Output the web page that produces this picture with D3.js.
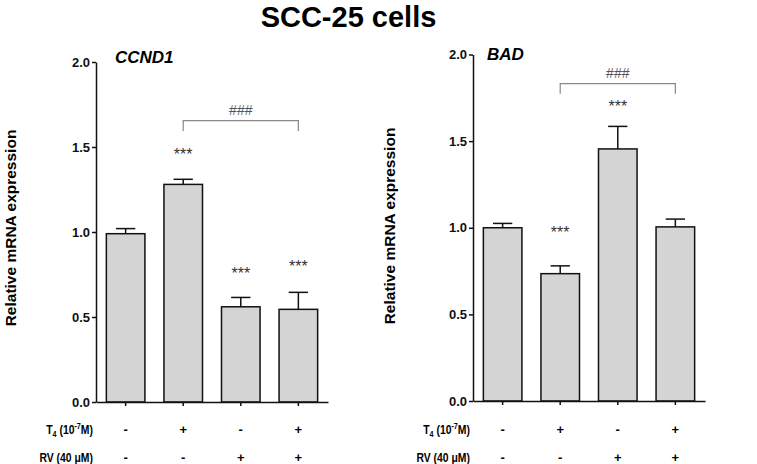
<!DOCTYPE html>
<html>
<head>
<meta charset="utf-8">
<script src="https://cdn.jsdelivr.net/npm/d3@7"></script>
<style>
  html, body { margin: 0; padding: 0; background: #fff; }
  svg { display: block; font-family: Arial, "Liberation Sans", sans-serif; }
</style>
</head>
<body>
<svg id="chart" width="757" height="464"></svg>
<script>
// ---- data ----
const conditions = ["Control", "T4", "RV", "T4+RV"];
const ccnd1Mean = [0.99, 1.28, 0.56, 0.545];
const ccnd1Err  = [0.03, 0.03, 0.055, 0.10];
const ccnd1Stars = ["", "***", "***", "***"];
const ccnd1StarLevel = [null, 1.478, 0.776, 0.818];
const badMean = [1.0, 0.735, 1.455, 1.005];
const badErr  = [0.025, 0.045, 0.13, 0.045];
const badStars = ["", "***", "***", ""];
const badStarLevel = [null, 0.992, 1.72, null];
const yTicks = [0, 0.5, 1.0, 1.5, 2.0];
const t4Signs = ["-", "+", "-", "+"];
const rvSigns = ["-", "-", "+", "+"];
const bracketFrom = 1, bracketTo = 3;
const bracketLabel = "###";

const svg = d3.select("#chart");

svg.append("text")
  .attr("x", 348.5).attr("y", 27)
  .attr("text-anchor", "middle")
  .attr("font-size", 29).attr("font-weight", "bold")
  .text("SCC-25 cells");

function panel(opt) {
  const g = svg.append("g");
  const y = d3.scaleLinear().domain([0, 2]).range([opt.y0, opt.y2]);
  const x = d3.scaleBand().domain(conditions)
    .range([opt.ax, opt.ax + 232]).paddingInner(0.33).paddingOuter(0.18);

  // bars
  g.selectAll("rect.bar").data(conditions).enter().append("rect")
    .attr("x", d => x(d)).attr("width", x.bandwidth())
    .attr("y", (d, i) => y(opt.mean[i]))
    .attr("height", (d, i) => y(0) - y(opt.mean[i]))
    .attr("fill", "#d4d4d4").attr("stroke", "#111").attr("stroke-width", 1.5);

  // error bars
  const cap = x.bandwidth() / 2;
  conditions.forEach((c, i) => {
    const cx = x(c) + x.bandwidth() / 2;
    const top = y(opt.mean[i] + opt.err[i]);
    g.append("line").attr("x1", cx).attr("x2", cx)
      .attr("y1", y(opt.mean[i])).attr("y2", top)
      .attr("stroke", "#111").attr("stroke-width", 1.5);
    g.append("line").attr("x1", cx - cap / 2).attr("x2", cx + cap / 2)
      .attr("y1", top).attr("y2", top)
      .attr("stroke", "#111").attr("stroke-width", 1.5);
    if (opt.stars[i]) {
      g.append("text").attr("x", cx).attr("y", y(opt.starLevel[i]) + 9)
        .attr("text-anchor", "middle").attr("font-size", 16).attr("fill", "#333")
        .text(opt.stars[i]);
    }
  });

  // y axis
  const yAxis = d3.axisLeft(y).tickValues(yTicks).tickFormat(d3.format(".1f"))
    .tickSize(4).tickPadding(2).tickSizeOuter(0);
  const ya = g.append("g").attr("transform", `translate(${opt.ax},0)`).call(yAxis);
  ya.selectAll("text").attr("font-size", 13).attr("font-weight", "bold")
    .attr("fill", "#111").attr("font-family", "Arial, 'Liberation Sans', sans-serif");
  ya.selectAll("line").attr("stroke", "#111").attr("stroke-width", 1.5);
  ya.select(".domain").attr("stroke", "#111").attr("stroke-width", 1.5);

  // x axis
  const xAxis = d3.axisBottom(x).tickSize(4).tickFormat("").tickSizeOuter(0);
  const xa = g.append("g").attr("transform", `translate(0,${opt.y0})`).call(xAxis);
  xa.selectAll("line").attr("stroke", "#111").attr("stroke-width", 1.5);
  xa.select(".domain").attr("stroke", "#111").attr("stroke-width", 1.5);

  // gene title
  g.append("text").attr("x", opt.titleX).attr("y", opt.titleY)
    .attr("font-size", 17).attr("font-weight", "bold").attr("font-style", "italic")
    .text(opt.title);

  // y label
  g.append("text")
    .attr("transform", `translate(${opt.labX},${opt.labY}) rotate(-90)`)
    .attr("text-anchor", "middle").attr("dominant-baseline", "central")
    .attr("font-size", 15.5).attr("font-weight", "bold")
    .text("Relative mRNA expression");

  // bracket
  const bx1 = x(conditions[bracketFrom]) + x.bandwidth() / 2;
  const bx2 = x(conditions[bracketTo]) + x.bandwidth() / 2;
  const by = y(opt.bracketLevel), byd = y(opt.bracketDrop);
  g.append("path")
    .attr("d", `M${bx1},${byd}V${by}H${bx2}V${byd}`)
    .attr("fill", "none").attr("stroke", "#888").attr("stroke-width", 1.2);
  g.append("text").attr("x", (bx1 + bx2) / 2).attr("y", y(opt.hashLevel) + 5)
    .attr("text-anchor", "middle").attr("font-size", 14).attr("fill", "#555")
    .text(bracketLabel);

  // treatment rows (condensed look)
  const rx = opt.ax - 3;
  const squeeze = `translate(${rx},0) scale(0.8,1) translate(${-rx},0)`;
  const rowT = g.append("text").attr("x", rx).attr("y", 434)
    .attr("text-anchor", "end").attr("font-size", 13).attr("font-weight", "bold")
    .attr("transform", squeeze);
  rowT.append("tspan").text("T");
  rowT.append("tspan").attr("font-size", 9).attr("dy", 3).text("4");
  rowT.append("tspan").attr("dy", -3).text(" (10");
  rowT.append("tspan").attr("font-size", 9).attr("dy", -5).text("-7");
  rowT.append("tspan").attr("dy", 5).text("M)");
  g.append("text").attr("x", rx).attr("y", 462)
    .attr("text-anchor", "end").attr("font-size", 13).attr("font-weight", "bold")
    .attr("transform", squeeze)
    .text("RV (40 \u03BCM)");
  conditions.forEach((c, i) => {
    const cx = x(c) + x.bandwidth() / 2;
    g.append("text").attr("x", cx).attr("y", 434).attr("text-anchor", "middle")
      .attr("font-size", 13).attr("font-weight", "bold").text(t4Signs[i]);
    g.append("text").attr("x", cx).attr("y", 462).attr("text-anchor", "middle")
      .attr("font-size", 13).attr("font-weight", "bold").text(rvSigns[i]);
  });
}

panel({
  ax: 96, y0: 402, y2: 62,
  mean: ccnd1Mean, err: ccnd1Err, stars: ccnd1Stars, starLevel: ccnd1StarLevel,
  title: "CCND1", titleX: 115, titleY: 63,
  labX: 10, labY: 228,
  bracketLevel: 1.655, bracketDrop: 1.594, hashLevel: 1.718
});
panel({
  ax: 473, y0: 401, y2: 54.5,
  mean: badMean, err: badErr, stars: badStars, starLevel: badStarLevel,
  title: "BAD", titleX: 487, titleY: 60,
  labX: 389, labY: 226,
  bracketLevel: 1.832, bracketDrop: 1.773, hashLevel: 1.894
});
</script>
</body>
</html>
